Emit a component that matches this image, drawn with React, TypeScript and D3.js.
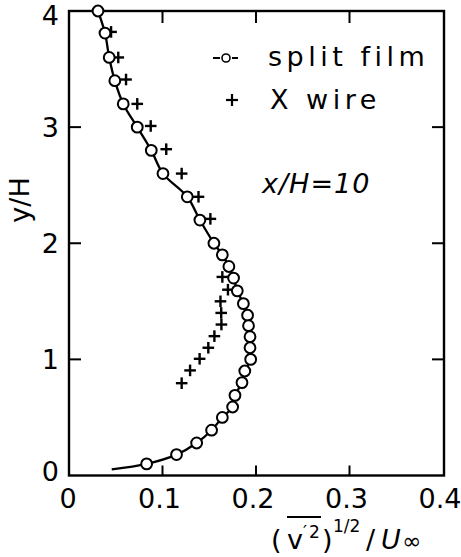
import React from "react";
import * as d3 from "d3";

// split film (circles), x = (v'^2)^(1/2)/U∞, y = y/H
const splitFilmX = [0.031, 0.0385, 0.043, 0.049, 0.058, 0.073, 0.088, 0.1005, 0.1265, 0.140, 0.155, 0.164, 0.171, 0.176, 0.180, 0.1865, 0.191, 0.192, 0.1936, 0.1936, 0.1943, 0.188, 0.185, 0.1775, 0.175, 0.164, 0.1525, 0.1365, 0.115, 0.083];
const splitFilmY = [4.0, 3.81, 3.60, 3.40, 3.20, 3.0, 2.8, 2.6, 2.4, 2.2, 2.0, 1.9, 1.8, 1.70, 1.59, 1.48, 1.38, 1.29, 1.195, 1.10, 1.0, 0.9, 0.8, 0.69, 0.59, 0.50, 0.39, 0.28, 0.18, 0.10];
// curve tail below the last circle
const curveTailX = [0.0457];
const curveTailY = [0.053];
// X wire (plus markers)
const xWireX = [0.045, 0.0527, 0.061, 0.073, 0.0874, 0.104, 0.1205, 0.1385, 0.1512, 0.164, 0.170, 0.162, 0.1628, 0.163, 0.1555, 0.149, 0.1397, 0.1295, 0.1205];
const xWireY = [3.82, 3.60, 3.41, 3.20, 3.01, 2.81, 2.60, 2.40, 2.21, 1.71, 1.60, 1.50, 1.40, 1.30, 1.20, 1.10, 1.005, 0.905, 0.795];

const xTicks = [0, 0.1, 0.2, 0.3, 0.4];
const xTickLabels = ["0", "0.1", "0.2", "0.3", "0.4"];
const yTicks = [0, 1, 2, 3, 4];
const yTickLabels = ["0", "1", "2", "3", "4"];

const W = 461, H = 557;
const L = 69, R = 444, T = 11, B = 475.5;

export default function App() {
  const x = d3.scaleLinear().domain([0, 0.4]).range([L, 443]);
  const y = d3.scaleLinear().domain([0, 4]).range([B, T]);

  const pts: [number, number][] = splitFilmX.map((v, i) => [v, splitFilmY[i]]);
  const curvePts = pts.concat(curveTailX.map((v, i) => [v, curveTailY[i]] as [number, number]));
  const line = d3
    .line<[number, number]>()
    .x((d) => x(d[0]))
    .y((d) => y(d[1]))
    .curve(d3.curveCatmullRom.alpha(0.5));

  const font = "DejaVu Sans, Liberation Sans, sans-serif";
  const sw = 2;
  const tickLen = 12;
  const cs = 5.8; // cross half size

  return (
    <svg width={W} height={H} style={{ position: "absolute", left: 0, top: 0, background: "#fff" }}>
      <rect x={0} y={0} width={W} height={H} fill="#fff" />
      {/* frame */}
      <rect x={L} y={T} width={R - L} height={B - T} fill="none" stroke="#000" strokeWidth={2.4} />
      {/* ticks */}
      {xTicks.slice(1, -1).map((t) => (
        <g key={"xt" + t}>
          <line x1={x(t)} x2={x(t)} y1={B} y2={B - 10} stroke="#000" strokeWidth={sw} />
          <line x1={x(t)} x2={x(t)} y1={T} y2={T + tickLen} stroke="#000" strokeWidth={sw} />
        </g>
      ))}
      {yTicks.slice(1, -1).map((t) => (
        <g key={"yt" + t}>
          <line x1={L} x2={L + tickLen} y1={y(t)} y2={y(t)} stroke="#000" strokeWidth={sw} />
          <line x1={R} x2={R - tickLen} y1={y(t)} y2={y(t)} stroke="#000" strokeWidth={sw} />
        </g>
      ))}
      {/* tick labels */}
      {xTicks.map((t, i) => (
        <text key={"xl" + t} x={x(t) - (i === 0 ? 1 : 3)} y={508} fontFamily={font} fontSize={27} textAnchor="middle">
          {xTickLabels[i]}
        </text>
      ))}
      {yTicks.map((t, i) => {
        const base = t === 4 ? 25 : t === 0 ? y(t) + 5 : y(t) + 10;
        return (
          <text key={"yl" + t} x={59} y={base} fontFamily={font} fontSize={27} textAnchor="end">
            {yTickLabels[i]}
          </text>
        );
      })}
      {/* axis titles */}
      <text transform="translate(29,200) rotate(-90)" fontFamily={font} fontSize={27} textAnchor="middle">
        y/H
      </text>
      <g fontFamily={font} fontSize={27}>
        <text x={271} y={549}>(</text>
        <text x={287} y={549}>v</text>
        <text x={303} y={538} fontSize={18}>′</text>
        <text x={309} y={538} fontSize={17}>2</text>
        <line x1={287} x2={321} y1={517} y2={517} stroke="#000" strokeWidth={2} />
        <text x={322} y={549}>)</text>
        <text x={333} y={532} fontSize={17}>1/2</text>
        <text x={366} y={549}>/</text>
        <text x={381} y={549} fontStyle="italic">U</text>
        <text x={402} y={549} fontSize={23}>∞</text>
      </g>
      {/* legend */}
      <line x1={213} x2={220} y1={58} y2={58} stroke="#000" strokeWidth={2} />
      <circle cx={226} cy={58} r={4} fill="#fff" stroke="#000" strokeWidth={1.6} />
      <line x1={232} x2={238} y1={58} y2={58} stroke="#000" strokeWidth={2} />
      <text x={268} y={66} fontFamily={font} fontSize={27} letterSpacing={4.5}>
        split film
      </text>
      <line x1={226} x2={238} y1={100} y2={100} stroke="#000" strokeWidth={2.2} />
      <line x1={232} x2={232} y1={94} y2={106} stroke="#000" strokeWidth={2.2} />
      <text x={270} y={109} fontFamily={font} fontSize={27} letterSpacing={4.5}>
        X  wire
      </text>
      <text x={262} y={193} fontFamily={font} fontSize={27} fontStyle="italic" letterSpacing={1}>
        x/H=10
      </text>
      {/* data */}
      <path d={line(curvePts) || ""} fill="none" stroke="#000" strokeWidth={2.3} />
      {xWireX.map((v, i) => (
        <g key={"xw" + i}>
          <line x1={x(v) - cs} x2={x(v) + cs} y1={y(xWireY[i])} y2={y(xWireY[i])} stroke="#000" strokeWidth={2.4} />
          <line x1={x(v)} x2={x(v)} y1={y(xWireY[i]) - cs} y2={y(xWireY[i]) + cs} stroke="#000" strokeWidth={2.4} />
        </g>
      ))}
      {splitFilmX.map((v, i) => (
        <circle key={"sf" + i} cx={x(v)} cy={y(splitFilmY[i])} r={5.4} fill="#fff" stroke="#000" strokeWidth={2} />
      ))}
    </svg>
  );
}
